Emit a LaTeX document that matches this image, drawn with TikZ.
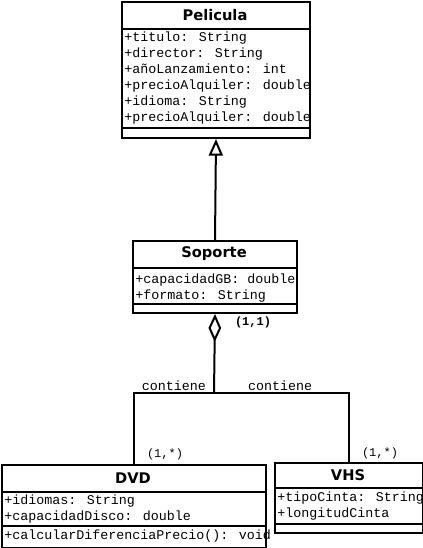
\documentclass[tikz,border=0pt]{standalone}
\usepackage{fontspec}
\usetikzlibrary{arrows.meta}
\newfontfamily\titlefont{DejaVu Sans}
\newfontfamily\codefont{Liberation Mono}
\tikzset{
  line/.style={line width=1.5pt, draw=black},
  classbox/.style={line, anchor=north west, inner sep=0pt},
  title/.style={font=\titlefont\bfseries\fontsize{11}{13}\selectfont, inner sep=0pt},
  attr/.style={font=\codefont\fontsize{10}{12}\selectfont, align=left, anchor=north west, inner sep=0pt},
  mult/.style={font=\codefont\fontsize{9}{11}\selectfont, inner sep=0pt},
  assoc/.style={font=\codefont\fontsize{10}{12}\selectfont, inner sep=0pt}
}
\begin{document}
\begin{tikzpicture}[x=0.75pt, y=-0.75pt]
\useasboundingbox (0,0) rectangle (423,548);

% Pelicula
\node[classbox, minimum width=141pt, minimum height=102pt] (pel) at (121,1) {};
\draw[line] (pel.west |- 0,29) -- (pel.east |- 0,29);
\draw[line] (pel.west |- 0,128) -- (pel.east |- 0,128);
\node[title] (pelt) at (215,15) {Pelicula};
\node[attr] (pela) at (124,32) {+titulo: String\\+director: String\\+añoLanzamiento: int\\+precioAlquiler: double\\+idioma: String\\+precioAlquiler: double};

% Soporte
\node[classbox, minimum width=123pt, minimum height=54pt] (sop) at (132,240) {};
\draw[line] (sop.west |- 0,268) -- (sop.east |- 0,268);
\draw[line] (sop.west |- 0,304) -- (sop.east |- 0,304);
\node[title] (sopt) at (214,254) {Soporte};
\node[attr] (sopa) at (135,274) {+capacidadGB: double\\+formato: String};

% DVD
\node[classbox, minimum width=198pt, minimum height=62.25pt] (dvd) at (1,464) {};
\draw[line] (dvd.west |- 0,492) -- (dvd.east |- 0,492);
\draw[line] (dvd.west |- 0,526) -- (dvd.east |- 0,526);
\node[title] (dvdt) at (133,478) {DVD};
\node[attr] (dvda) at (4,495) {+idiomas: String\\+capacidadDisco: double};
\node[attr] (dvdm) at (4,530) {+calcularDiferenciaPrecio(): void};

% VHS
\node[classbox, minimum width=111pt, minimum height=52.5pt] (vhs) at (274,462) {};
\draw[line] (vhs.west |- 0,488) -- (vhs.east |- 0,488);
\draw[line] (vhs.west |- 0,524) -- (vhs.east |- 0,524);
\node[title] (vhst) at (348,475) {VHS};
\node[attr] (vhsa) at (277,492) {+tipoCinta: String\\+longitudCinta};

% Generalization
\draw[line, -{Triangle[open, length=12.5pt, width=10.5pt]}] (sop.north) -- (pel.south);

% Aggregation
\coordinate (j) at (214,393);
\draw[line, {Diamond[open, length=21pt, width=9.5pt]}-] (sop.south) -- (j);
\draw[line] (j) -| (dvd.north);
\draw[line] (j) -| (vhs.north);

% Labels
\node[mult, font=\codefont\bfseries\fontsize{9}{11}\selectfont] (m11) at (253,322) {(1,1)};
\node[assoc] (c1) at (174,386) {contiene};
\node[assoc] (c2) at (280,386) {contiene};
\node[mult] (m1) at (165,454) {(1,*)};
\node[mult] (m2) at (380,453) {(1,*)};
\end{tikzpicture}
\end{document}
